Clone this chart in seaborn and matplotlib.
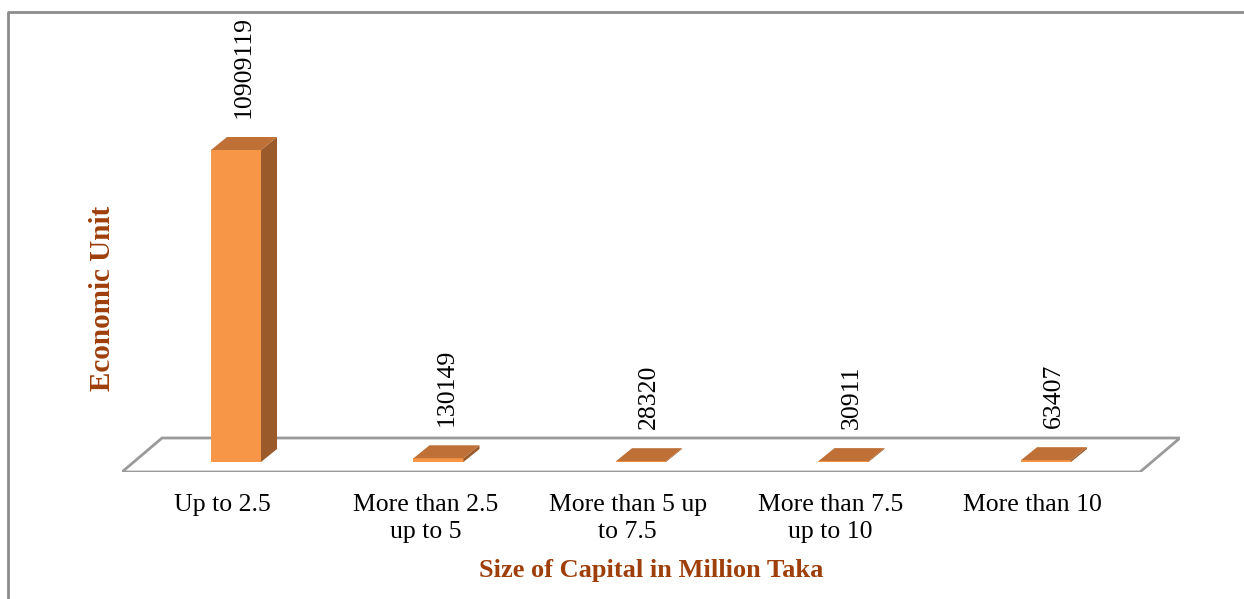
import matplotlib
matplotlib.use("Agg")
import matplotlib.pyplot as plt
from matplotlib.patches import Polygon
from matplotlib.lines import Line2D
import seaborn as sns
import pandas as pd

categories = ['Up to 2.5', 'More than 2.5\nup to 5', 'More than 5 up\nto 7.5',
              'More than 7.5\nup to 10', 'More than 10']
units = [10909119, 130149, 28320, 30911, 63407]

df = pd.DataFrame({'Size': categories, 'Units': units})

sns.set_style('white')
plt.rcParams['font.family'] = ['Liberation Serif', 'DejaVu Serif']
plt.rcParams['text.color'] = 'black'

W, H = 1244, 599
fig = plt.figure(figsize=(W / 100, H / 100), dpi=100)

# axes box in pixels (left, right, bottom, top)
L, R, B, T = 122, 1180, 472, 12
ax = fig.add_axes([L / W, 1 - B / H, (R - L) / W, (B - T) / H])

front = '#F79646'
side = '#9A5A2A'
top = '#BE7036'
brown = '#9E3F0B'

sns.barplot(data=df, x='Size', y='Units', color=front, width=0.247,
            saturation=1, linewidth=0, ax=ax, zorder=3)

# map: bar spacing 202.5 px, first centre at 236 px, baseline at 462 px, max bar 312 px high
px_x = 1 / 202.5
px_y = max(units) / 312
ax.set_xlim((L - 236) * px_x, (R - 236) * px_x)
ax.set_ylim(-(B - 462) * px_y, (462 - T) * px_y)
ax.axis('off')

# floor
fdx, fdy = 40 * px_x, 34 * px_y
x0, x1 = ax.get_xlim()
y0 = ax.get_ylim()[0]
floor = Polygon([(x0, y0), (x1 - fdx, y0), (x1, y0 + fdy), (x0 + fdx, y0 + fdy)],
                closed=True, facecolor='white', edgecolor='#9a9a9a', lw=2, zorder=1)
ax.add_patch(floor)

# 3D faces
dx, dy = 16 * px_x, 13 * px_y
for p, v in zip(ax.patches[:len(units)], units):
    xl = p.get_x()
    xr = xl + p.get_width()
    h = p.get_height()
    ax.add_patch(Polygon([(xr, 0), (xr + dx, dy), (xr + dx, h + dy), (xr, h)],
                         closed=True, facecolor=side, edgecolor='none', zorder=4))
    ax.add_patch(Polygon([(xl, h), (xr, h), (xr + dx, h + dy), (xl + dx, h + dy)],
                         closed=True, facecolor=top, edgecolor='none', zorder=4))
    ax.annotate(f'{v}', (xl + p.get_width() / 2 + dx / 2, h), xytext=(0, 23),
                textcoords='offset points', rotation=90, ha='center', va='bottom',
                fontsize=18.5, annotation_clip=False)

# category labels (sit under the front edge of the floor, a bit left of the bars)
for i, c in enumerate(categories):
    ax.annotate(c, (i, y0), xytext=(-9.5, -16), textcoords='offset points',
                ha='center', va='top', fontsize=18.5, linespacing=1.3,
                annotation_clip=False)

fig.text(651 / W, 1 - 570 / H, 'Size of Capital in Million Taka', ha='center',
         va='center', fontsize=19, fontweight='bold', color=brown)
fig.text(103 / W, 1 - 298 / H, 'Economic Unit', ha='center', va='center',
         rotation=90, fontsize=21, fontweight='bold', color=brown)

# outer border (only top and left visible)
fig.add_artist(Line2D([8 / W, 8 / W, 1], [0, 1 - 12 / H, 1 - 12 / H],
                      transform=fig.transFigure, color='#8c8c8c', lw=2))

fig.savefig('out.png', dpi=100)
